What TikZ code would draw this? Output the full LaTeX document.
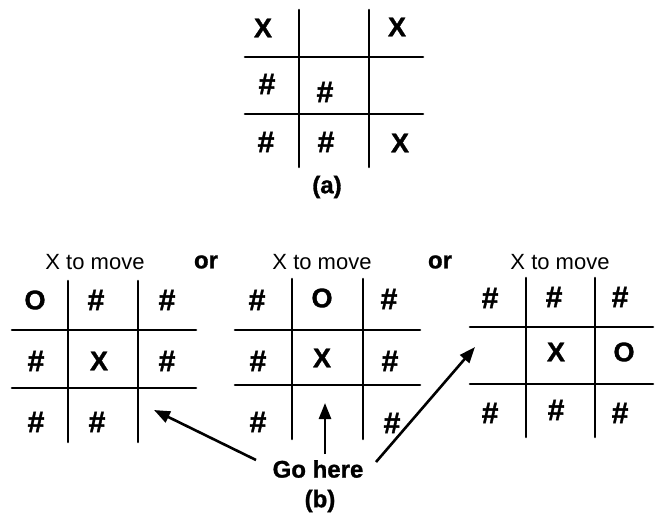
\documentclass[tikz,border=0pt]{standalone}
\usepackage{fontspec}
\setmainfont{Liberation Sans}
\newfontfamily\heavyfont[FakeBold=1.2]{Liberation Sans}
\usetikzlibrary{arrows.meta}
\begin{document}
\begin{tikzpicture}[x=1pt,y=-1pt,
  gridline/.style={line width=2.6pt, line cap=round},
  cellmark/.style={font=\heavyfont\fontsize{27}{27}\selectfont\bfseries, inner sep=0pt},
  hashmark/.style={font=\heavyfont\fontsize{30}{30}\selectfont\bfseries, inner sep=0pt},
  caption/.style={font=\fontsize{22}{22}\selectfont, inner sep=0pt},
  boldcap/.style={font=\heavyfont\fontsize{24}{24}\selectfont\bfseries, inner sep=0pt},
  pointer/.style={line width=2.6pt, -{Triangle[length=16pt,width=12pt]}}]
\useasboundingbox (0,0) rectangle (655,516);
% ---- grid (a)
\draw[gridline] (299,10) -- (299,167) (369,10) -- (369,167)
  (245,57) -- (423,57) (245,114) -- (423,114);
\node[cellmark] (a11) at (263,28) {X};
\node[cellmark] (a13) at (397,27) {X};
\node[hashmark] (a21) at (267,84) {\#};
\node[hashmark] (a22) at (325,92) {\#};
\node[hashmark] (a31) at (266,142) {\#};
\node[hashmark] (a32) at (326,142) {\#};
\node[cellmark] (a33) at (400,143) {X};
\node[boldcap] (capa) at (327,187) {(a)};
% ---- grid b1
\draw[gridline] (68,281) -- (68,442) (138,281) -- (138,442)
  (12,330) -- (196,330) (12,388) -- (196,388);
\node[caption] (m1) at (95,262) {X to move};
\node[boldcap] (or1) at (206,262) {or};
\node[cellmark] (b111) at (35,300) {O};
\node[hashmark] (b112) at (96,300) {\#};
\node[hashmark] (b113) at (167,300) {\#};
\node[hashmark] (b121) at (36,361) {\#};
\node[cellmark] (b122) at (99,361) {X};
\node[hashmark] (b123) at (167,361) {\#};
\node[hashmark] (b131) at (36,422) {\#};
\node[hashmark] (b132) at (97,422) {\#};
% ---- grid b2
\draw[gridline] (292,279) -- (292,439) (363,279) -- (363,439)
  (235,330) -- (420,330) (235,385) -- (420,385);
\node[caption] (m2) at (322,262) {X to move};
\node[boldcap] (or2) at (440,262) {or};
\node[hashmark] (b211) at (257,300) {\#};
\node[cellmark] (b212) at (322,298) {O};
\node[hashmark] (b213) at (389,299) {\#};
\node[hashmark] (b221) at (258,361) {\#};
\node[cellmark] (b222) at (322,358) {X};
\node[hashmark] (b223) at (390,361) {\#};
\node[hashmark] (b231) at (258,422) {\#};
\node[hashmark] (b233) at (392,423) {\#};
% ---- grid b3
\draw[gridline] (526,278) -- (526,437) (595,278) -- (595,437)
  (470,327) -- (653,327) (470,384) -- (653,384);
\node[caption] (m3) at (560,262) {X to move};
\node[hashmark] (b311) at (490,298) {\#};
\node[hashmark] (b312) at (554,297) {\#};
\node[hashmark] (b313) at (620,297) {\#};
\node[cellmark] (b322) at (556,352) {X};
\node[cellmark] (b323) at (624,352) {O};
\node[hashmark] (b331) at (490,413) {\#};
\node[hashmark] (b332) at (556,410) {\#};
\node[hashmark] (b333) at (620,413) {\#};
% ---- Go here
\node[boldcap] (go) at (318,469) {Go here};
\node[boldcap] (capb) at (320,501) {(b)};
\coordinate (s1) at (256,460);
\coordinate (s2) at (325,454);
\coordinate (s3) at (376,462);
\coordinate (t1) at (154,410);
\coordinate (t2) at (325,403);
\coordinate (t3) at (475,347);
\draw[pointer] (s1) -- (t1);
\draw[pointer] (s2) -- (t2);
\draw[pointer] (s3) -- (t3);
\end{tikzpicture}
\end{document}
